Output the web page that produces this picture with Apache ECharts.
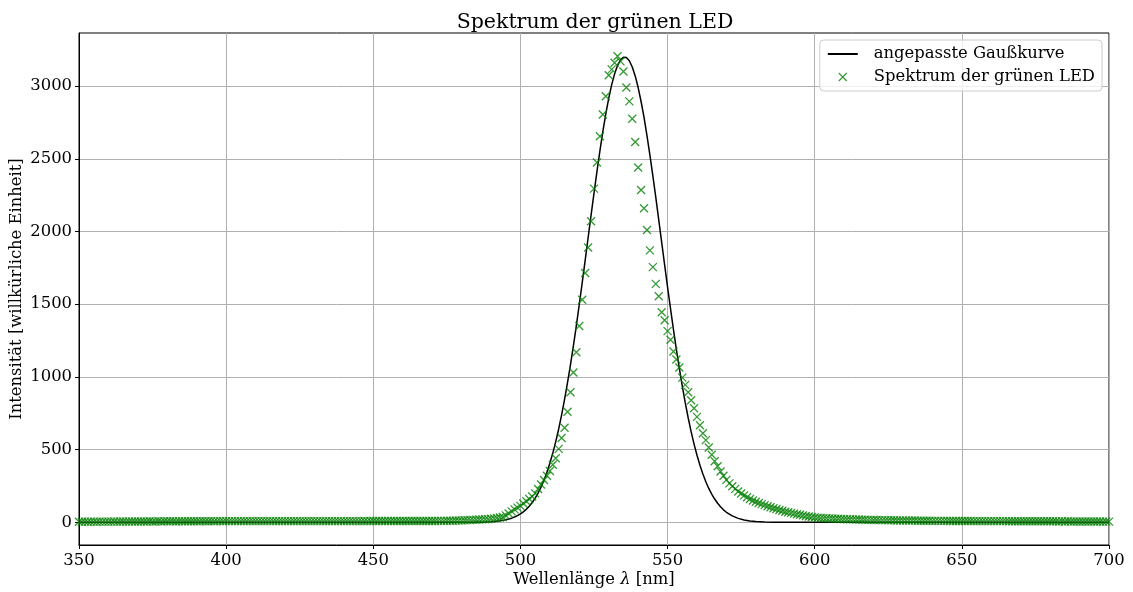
<!DOCTYPE html>
<html><head><meta charset="utf-8">
<script src="https://cdn.jsdelivr.net/npm/echarts@6/dist/echarts.min.js"></script>
<style>html,body{margin:0;padding:0;background:#fff}#c{width:1133px;height:592px}</style>
</head><body><div id="c"></div>
<script>
const titleText = 'Spektrum der grünen LED';
const xAxisName = 'Wellenlänge {i|λ} [nm]';
const yAxisName = 'Intensität [willkürliche Einheit]';
const lineName = 'angepasste Gaußkurve';
const scatterName = 'Spektrum der grünen LED';
const yTicks = [0, 500, 1000, 1500, 2000, 2500, 3000];

const wavelengths = [
350,351,352,353,354,355,356,357,358,359,
360,361,362,363,364,365,366,367,368,369,
370,371,372,373,374,375,376,377,378,379,
380,381,382,383,384,385,386,387,388,389,
390,391,392,393,394,395,396,397,398,399,
400,401,402,403,404,405,406,407,408,409,
410,411,412,413,414,415,416,417,418,419,
420,421,422,423,424,425,426,427,428,429,
430,431,432,433,434,435,436,437,438,439,
440,441,442,443,444,445,446,447,448,449,
450,451,452,453,454,455,456,457,458,459,
460,461,462,463,464,465,466,467,468,469,
470,471,472,473,474,475,476,477,478,479,
480,481,482,483,484,485,486,487,488,489,
490,491,492,493,494,495,496,497,498,499,
500,501,502,503,504,505,506,507,508,509,
510,511,512,513,514,515,516,517,518,519,
520,521,522,523,524,525,526,527,528,529,
530,531,532,533,534,535,536,537,538,539,
540,541,542,543,544,545,546,547,548,549,
550,551,552,553,554,555,556,557,558,559,
560,561,562,563,564,565,566,567,568,569,
570,571,572,573,574,575,576,577,578,579,
580,581,582,583,584,585,586,587,588,589,
590,591,592,593,594,595,596,597,598,599,
600,601,602,603,604,605,606,607,608,609,
610,611,612,613,614,615,616,617,618,619,
620,621,622,623,624,625,626,627,628,629,
630,631,632,633,634,635,636,637,638,639,
640,641,642,643,644,645,646,647,648,649,
650,651,652,653,654,655,656,657,658,659,
660,661,662,663,664,665,666,667,668,669,
670,671,672,673,674,675,676,677,678,679,
680,681,682,683,684,685,686,687,688,689,
690,691,692,693,694,695,696,697,698,699,
700];

const intensity = [
4,4,5,4,5,5,4,5,5,5,
5,5,6,5,6,6,5,6,6,6,
6,6,6,6,7,6,6,7,6,7,
7,7,7,6,7,7,7,7,7,7,
7,7,8,7,7,8,7,8,8,7,
8,8,8,8,8,8,8,8,8,8,
8,8,8,8,8,8,8,8,8,8,
8,8,8,8,8,8,8,8,8,8,
8,8,8,8,8,8,8,8,8,8,
8,8,8,8,8,8,8,9,8,9,
9,9,9,9,9,9,9,9,9,9,
9,9,9,9,9,9,9,9,9,9,
9,9,10,10,10,11,11,11,12,12,
13,14,15,16,17,18,19,20,21,22,
24,27,30,33,36,48,61,75,89,101,
113,129,145,160,178,199,229,260,291,320,
353,396,440,505,580,650,760,895,1030,1170,
1350,1530,1715,1890,2070,2295,2475,2655,2805,2930,
3075,3115,3160,3205,3170,3100,2990,2895,2775,2615,
2440,2285,2160,2010,1870,1755,1640,1555,1445,1390,
1315,1255,1175,1120,1065,995,945,895,840,785,
725,667,612,565,515,465,420,385,350,320,
292,268,248,230,212,198,185,172,160,150,
141,133,125,118,111,104,97,91,85,79,
73,69,65,60,56,52,48,44,40,37,
34,31,30,29,28,27,26,25,24,23,
22,21,21,20,19,19,18,18,17,17,
16,16,15,15,15,14,14,14,13,13,
13,12,12,12,12,11,11,11,11,11,
10,10,10,10,10,10,9,9,9,9,
9,9,9,9,8,8,8,8,8,8,
8,8,8,8,8,8,7,7,7,7,
7,7,7,7,7,7,7,7,7,7,
7,7,7,6,7,6,7,6,6,6,
6,6,6,6,6,6,6,6,5,6,
5];

const gaussX = [350,470,480,485,488,
490,491,492,493,494,495,496,497,498,499,
500,501,502,503,504,505,506,507,508,509,
510,511,512,513,514,515,516,517,518,519,
520,521,522,523,524,525,526,527,528,529,
530,531,532,533,534,535,536,537,538,539,
540,541,542,543,544,545,546,547,548,549,
550,551,552,553,554,555,556,557,558,559,
560,561,562,563,564,565,566,567,568,569,
570,572,574,576,578,580,583,586,590,600,700];

const gaussY = [0,0,0.2,0.9,2.4,
4.4,5.8,7.7,10.2,13.3,17.3,22.2,28.5,36.3,46,
58,72,90,111,136,166,201,242,290,344,
406,476,555,642,739,845,960,1083,1214,1353,
1498,1648,1801,1957,2111,2264,2412,2553,2686,2807,
2915,3008,3084,3141,3180,3198,3196,3174,3131,3070,
2990,2894,2784,2660,2525,2383,2234,2080,1925,1771,
1618,1469,1325,1188,1058,936,823,719,624,538,
461,393,332,279,233,194,160,131,107,86,
69,44,27,16.4,9.6,5.5,2.3,0.9,0.2,0,0];

const FONT = '"DejaVu Serif", serif';
const FS = 16.4;
const chart = echarts.init(document.getElementById('c'), null, {renderer: 'canvas'});

const scatterData = wavelengths.map((x, i) => [x, intensity[i]]);
const lineData = gaussX.map((x, i) => [x, gaussY[i]]);

chart.setOption({
  animation: false,
  backgroundColor: '#ffffff',
  title: {
    text: titleText, left: 590, top: 7, textAlign: 'center',
    textStyle: {fontFamily: FONT, fontSize: 20.5, fontWeight: 'normal', color: '#000'}
  },
  grid: {left: 79, right: 24, top: 33, bottom: 47, show: true, borderColor: '#000', borderWidth: 1,
    containLabel: false, outerBoundsMode: 'none'},
  legend: {
    orient: 'vertical', right: 31, top: 40,
    backgroundColor: 'rgba(255,255,255,0.8)', borderColor: '#cccccc', borderWidth: 1, borderRadius: 4,
    padding: [6, 7, 6, 7], itemGap: 7, itemWidth: 30, itemHeight: 8,
    textStyle: {fontFamily: FONT, fontSize: FS, color: '#000', padding: [0, 0, 0, 11]},
    data: [
      {name: lineName, itemStyle: {opacity: 0}},
      {name: scatterName, itemStyle: {color: 'rgba(0,0,0,0)', borderColor: '#008000', borderWidth: 1.2}}
    ]
  },
  xAxis: {
    type: 'value', min: 350, max: 700, interval: 50,
    name: xAxisName, nameLocation: 'middle', nameGap: 27, nameMoveOverlap: false,
    nameTextStyle: {fontFamily: FONT, fontSize: FS, color: '#000',
      rich: {i: {fontFamily: FONT, fontSize: FS, fontStyle: 'italic', color: '#000'}}},
    axisLine: {show: true, onZero: false, lineStyle: {color: '#000', width: 1}},
    axisTick: {show: true, inside: false, length: 4, lineStyle: {color: '#000'}},
    axisLabel: {margin: 8, fontFamily: FONT, fontSize: FS, color: '#000', showMinLabel: true, showMaxLabel: true,
      formatter: v => String(v)},
    splitLine: {show: true, lineStyle: {color: '#b0b0b0', width: 1}}
  },
  yAxis: {
    type: 'value', min: -156, max: 3365,
    name: yAxisName, nameLocation: 'middle', nameGap: 54, nameMoveOverlap: false,
    nameTextStyle: {fontFamily: FONT, fontSize: FS, color: '#000'},
    axisLine: {show: true, onZero: false, lineStyle: {color: '#000', width: 1}},
    axisTick: {show: true, inside: false, length: 4, lineStyle: {color: '#000'}, customValues: yTicks},
    axisLabel: {margin: 7, fontFamily: FONT, fontSize: FS, color: '#000', customValues: yTicks,
      formatter: v => String(v)},
    splitLine: {show: true, lineStyle: {color: '#b0b0b0', width: 1}}
  },
  series: [
    {
      name: lineName, type: 'line', data: lineData, showSymbol: false, symbol: 'none',
      lineStyle: {color: '#000', width: 1.5}, itemStyle: {color: '#000'}, z: 2
    },
    {
      name: scatterName, type: 'scatter', data: scatterData,
      symbol: 'path://M0,0L10,10M10,0L0,10', symbolSize: 8,
      itemStyle: {color: 'rgba(0,0,0,0)', borderColor: '#008000', borderWidth: 1.3}, z: 3
    }
  ]
});
</script></body></html>
